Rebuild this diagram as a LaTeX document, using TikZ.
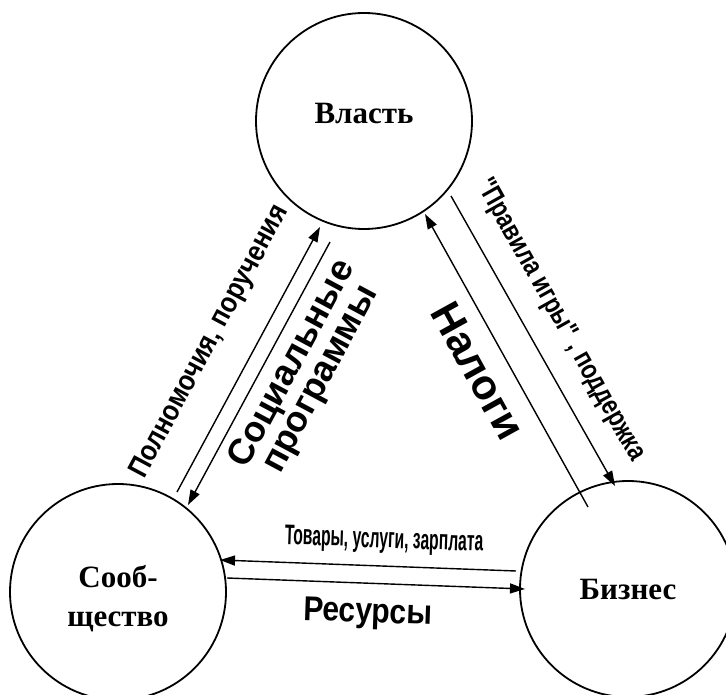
\documentclass[tikz,border=0pt]{standalone}
\usepackage{fontspec}
\usepackage{graphicx}
\setmainfont{Liberation Serif}
\newfontfamily\arialfont{Liberation Sans}
\usetikzlibrary{arrows.meta}
\begin{document}
\begin{tikzpicture}[x=1pt,y=-1pt,
  circfont/.style={font=\fontsize{31}{39}\selectfont\bfseries,align=center},
  ent/.style={circle,draw,line width=1.8pt,minimum size=216pt,inner sep=0pt,circfont},
  flow/.style={line width=1.4pt,-{Triangle[length=15pt,width=10pt]}},
  lbl/.style={inner sep=0pt,align=center}]
\useasboundingbox (0,0) rectangle (726,695);
\node[ent,label={[circfont,yshift=7pt]center:Власть}] (vl) at (364,121) {};
\node[ent,label={[circfont,yshift=-7pt]center:Сооб-\\щество}] (so) at (118,592) {};
\node[ent] (bi) at (628,589) {Бизнес};
% arrow end points
\coordinate (a1s) at (177,492); \coordinate (a1e) at (320,227);
\coordinate (a2s) at (330,242); \coordinate (a2e) at (188,505);
\coordinate (a3s) at (588,507); \coordinate (a3e) at (425,214);
\coordinate (a4s) at (451,196); \coordinate (a4e) at (615,486);
\coordinate (a5s) at (516,571); \coordinate (a5e) at (220,560);
\coordinate (a6s) at (227,578); \coordinate (a6e) at (525,589);
\draw[flow] (a1s) -- (a1e);
\draw[flow] (a2s) -- (a2e);
\draw[flow] (a3s) -- (a3e);
\draw[flow] (a4s) -- (a4e);
\draw[flow] (a5s) -- (a5e);
\draw[flow] (a6s) -- (a6e);
% labels
\node[lbl,rotate=61.9,font=\arialfont\bfseries\fontsize{29}{30}\selectfont] (t1) at (210,342) {\scalebox{0.87}[1]{Полномочия, поручения}};
\node[lbl,rotate=61.8,font=\arialfont\bfseries\fontsize{36}{32}\selectfont] (t2) at (307,372) {Социальные\\программы};
\node[lbl,rotate=-61.1,font=\arialfont\bfseries\fontsize{42}{44}\selectfont] (t3) at (478,371) {Налоги};
\node[lbl,rotate=-60.7,font=\arialfont\bfseries\fontsize{28}{30}\selectfont] (t4) at (560,320) {\scalebox{0.8}[1]{"Правила игры" , поддержка}};
\node[lbl,rotate=-2,font=\arialfont\bfseries\fontsize{27}{28}\selectfont] (t5) at (384,541) {\scalebox{0.58}[1.05]{Товары, услуги, зарплата}};
\node[lbl,rotate=-2,font=\arialfont\bfseries\fontsize{30}{33}\selectfont] (t6) at (368,614) {\scalebox{1}[1.15]{Ресурсы}};
\end{tikzpicture}
\end{document}
